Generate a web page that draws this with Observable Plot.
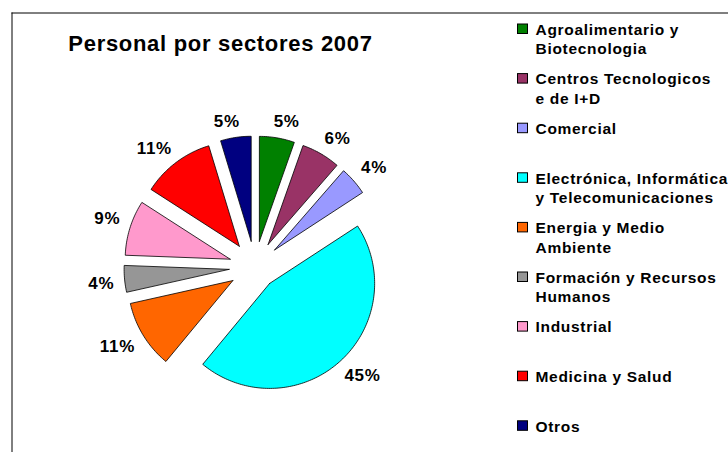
<!DOCTYPE html>
<html>
<head>
<meta charset="utf-8">
<script src="https://cdn.jsdelivr.net/npm/d3@7"></script>
<script src="https://cdn.jsdelivr.net/npm/@observablehq/plot@0.6"></script>
<style>
  html, body { margin: 0; padding: 0; background: #fff; }
  svg { display: block; }
</style>
</head>
<body>
<div id="chart"></div>
<script>
const title = "Personal por sectores 2007";
const categories = [
  "Agroalimentario y\nBiotecnologia",
  "Centros Tecnologicos\ne de I+D",
  "Comercial",
  "Electrónica, Informática\ny Telecomunicaciones",
  "Energia y Medio\nAmbiente",
  "Formación y Recursos\nHumanos",
  "Industrial",
  "Medicina y Salud",
  "Otros"
];
// share of staff (%); labels show the rounded value
const values = [5.4, 6.0, 4.4, 45.2, 10.5, 4.1, 8.5, 11.2, 4.7];
const colors = ["#008000", "#993366", "#9999FF", "#00FFFF", "#FF6600", "#969696", "#FF99CC", "#FF0000", "#000080"];
const explode = [26, 26, 26, 22, 26, 26, 26, 26, 26];

// layout
const W = 728, H = 452;
const cx = 254.5, cy = 266.5, R = 105;
const labelFont = 17;

const arcs = d3.pie().sort(null).value(d => d)(values);
const slices = [];
const labels = [];
arcs.forEach((a, i) => {
  const mid = (a.startAngle + a.endAngle) / 2;
  const s = Math.sin(mid), c = Math.cos(mid);
  const ax = cx + explode[i] * s;
  const ay = cy - explode[i] * c;
  const n = Math.max(4, Math.ceil((a.endAngle - a.startAngle) / 0.02));
  slices.push({name: categories[i], fill: colors[i], px: ax, py: ay});
  for (let k = 0; k <= n; k++) {
    const t = a.startAngle + (a.endAngle - a.startAngle) * k / n;
    slices.push({name: categories[i], fill: colors[i], px: ax + R * Math.sin(t), py: ay - R * Math.cos(t)});
  }
  slices.push({name: categories[i], fill: colors[i], px: ax, py: ay});
  const txt = Math.round(values[i]) + "%";
  const halfW = ((txt.length - 1) * 0.556 + 0.889) * labelFont / 2 + 1;
  const mx = ax + R * s, my = ay - R * c;
  labels.push({
    text: txt,
    lx: mx + Math.sign(s) * Math.sqrt(Math.abs(s)) * (halfW + 10),
    ly: my - Math.sign(c) * Math.sqrt(Math.abs(c)) * 16
  });
});

// legend rows (one per text line)
const legendLines = [];
categories.forEach((name, i) => {
  name.split("\n").forEach((line, j) => legendLines.push({line, i, j}));
});

const font = "'Liberation Sans', Arial, Helvetica, sans-serif";

const chart = Plot.plot({
  width: W,
  height: H,
  margin: 0,
  x: {domain: [0, W], range: [0, W], axis: null},
  y: {domain: [0, H], range: [0, H], axis: null},
  color: {type: "identity"},
  style: {fontFamily: font, background: "#fff", overflow: "hidden", letterSpacing: "0.7px"},
  marks: [
    Plot.ruleY([0], {x1: () => 11.5, x2: () => W, y: () => 12.5, stroke: "black", strokeWidth: 1}),
    Plot.ruleX([0], {x: () => 11.5, y1: () => 12.5, y2: () => H, stroke: "black", strokeWidth: 1}),
    Plot.line(slices, {x: "px", y: "py", z: "name", fill: "fill", stroke: "black", strokeWidth: 0.8, curve: "linear"}),
    Plot.text(labels, {x: "lx", y: "ly", text: "text", fontSize: labelFont, fontWeight: "bold", fill: "black", textAnchor: "middle", lineAnchor: "middle"}),
    Plot.text([title], {x: () => 220, y: () => 50, text: d => d, fontSize: 22, fontWeight: "bold", fill: "black", textAnchor: "middle", lineAnchor: "bottom"}),
    Plot.rect(categories, {x1: () => 517.5, x2: () => 527.5, y1: (d, i) => 24 + 49.6 * i, y2: (d, i) => 33.5 + 49.6 * i, fill: (d, i) => colors[i], stroke: "black", strokeWidth: 1}),
    Plot.text(legendLines, {x: () => 535, y: d => 34.3 + 49.6 * d.i + 19.3 * d.j, text: "line", fontSize: 15.5, fontWeight: "bold", fill: "black", textAnchor: "start", lineAnchor: "bottom"})
  ]
});
document.getElementById("chart").appendChild(chart);
</script>
</body>
</html>
